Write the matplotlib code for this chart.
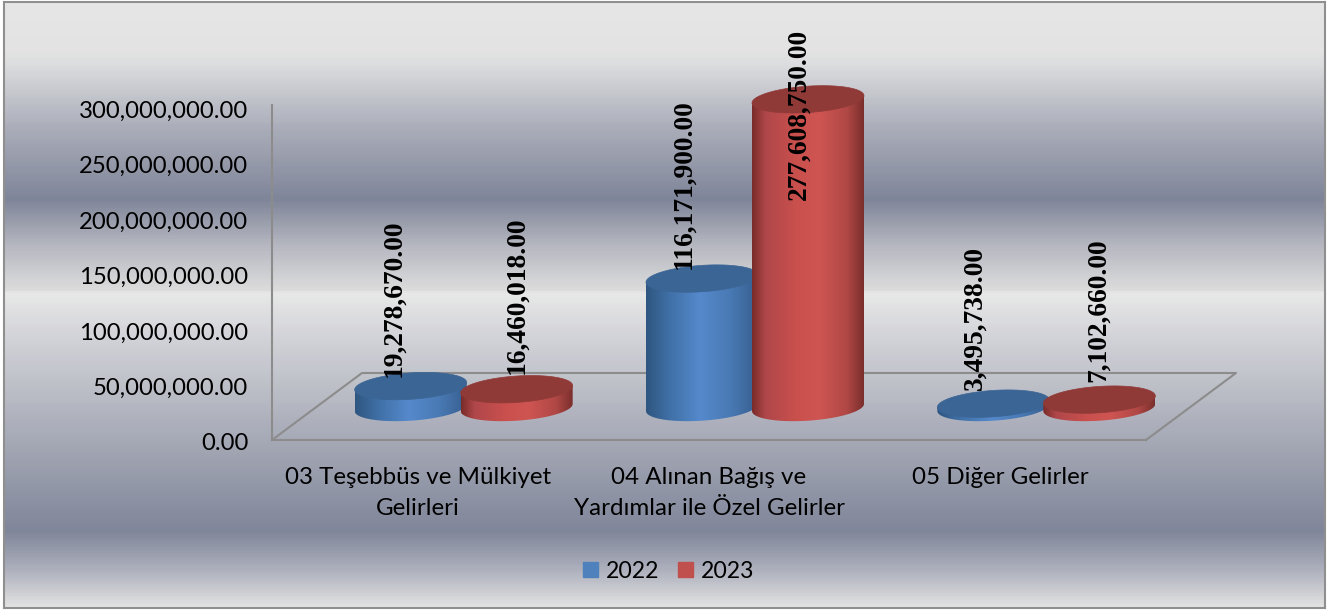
import numpy as np
import matplotlib
matplotlib.use('Agg')
import matplotlib.pyplot as plt
from matplotlib.colors import LinearSegmentedColormap
from matplotlib.patches import Patch, Polygon
from matplotlib.transforms import ScaledTranslation

categories = ['03 Teşebbüs ve Mülkiyet\nGelirleri',
              '04 Alınan Bağış ve\nYardımlar ile Özel Gelirler',
              '05 Diğer Gelirler']
years = ['2022', '2023']
values_2022 = [19278670, 116171900, 3495738]
values_2023 = [16460018, 277608750, 7102660]
y_ticks = [0, 50000000, 100000000, 150000000, 200000000, 250000000, 300000000]

W, H = 1342, 611
# chart box in pixels
left, right, top, bottom = 272, 1146, 107, 440
px_x = 3.0 / (right - left)
px_y = 300000000.0 / (bottom - top)

depth_x = 90 * px_x
depth_y = 67 * px_y
half_w = 56 * px_x
gap = 53 * px_x
ell_b = 13.2 * px_y
ell_s = 3.6 * px_y
base = depth_y / 2 - 1 * px_y
bar_shift = 1 * px_x

# label offsets from the bar top, pixels (right, up)
label_dx = [[-17, -18, -18], [0, -9, -1]]
label_dy = [[9, 9.5, 13.6], [15, -101, 17.6]]

bg_cmap = LinearSegmentedColormap.from_list('bg', [
    (0.0, '#e6e6e6'), (0.08, '#e3e3e3'), (0.10, '#dcdddf'), (0.21, '#a9acb8'),
    (0.325, '#7f8599'), (0.40, '#b5b7c0'), (0.475, '#dcdcdc'), (0.48, '#e8e8e8'),
    (0.555, '#d2d3d8'), (0.755, '#9ea2b0'), (0.875, '#80869a'), (0.94, '#aeb1bd'),
    (1.0, '#e2e2e2')])
blue_cmap = LinearSegmentedColormap.from_list('b', [
    (0.0, '#2f5680'), (0.2, '#3f6fa5'), (0.48, '#5589cc'), (0.75, '#4a7ab5'), (1.0, '#365f8f')])
red_cmap = LinearSegmentedColormap.from_list('r', [
    (0.0, '#7a2c2a'), (0.12, '#b0474a'), (0.4, '#c9504d'), (0.6, '#cf5552'), (0.85, '#b04845'), (1.0, '#7b2f2d')])
top_colors = ['#3b6595', '#903a38']
legend_colors = ['#4f81bd', '#c0504d']
line_color = '#8c8c8c'
t_lower = np.linspace(np.pi, 2 * np.pi, 80)
t_full = np.linspace(0, 2 * np.pi, 160)

plt.rcParams['font.family'] = ['Lato', 'DejaVu Sans']
fig = plt.figure(figsize=(W / 100, H / 100), dpi=100, facecolor='white')

# background panel with the banded gradient
bg = fig.add_axes([4 / W, 1 - 608 / H, (1325 - 4) / W, (608 - 2) / H])
bg.imshow(np.linspace(0, 1, 606).reshape(-1, 1), cmap=bg_cmap, aspect='auto', vmin=0, vmax=1)
bg.set_xticks([])
bg.set_yticks([])
for s in bg.spines.values():
    s.set_color('#8f8f8f')
    s.set_linewidth(1.5)

ax = fig.add_axes([left / W, 1 - bottom / H, (right - left) / W, (bottom - top) / H])
ax.patch.set_visible(False)


def cylinder(cx, value, cmap, top_color, z):
    upper = base + value
    low_x = cx + half_w * np.cos(t_lower)
    low_y = base + ell_b * np.sin(t_lower) + ell_s * np.cos(t_lower)
    side_pts = np.column_stack([
        np.r_[cx - half_w, low_x, cx + half_w],
        np.r_[upper - ell_s, low_y, upper + ell_s]])
    side = Polygon(side_pts, closed=True, fc='none', ec='none', zorder=z, clip_on=False)
    ax.add_patch(side)
    im = ax.imshow(np.linspace(0, 1, 200).reshape(1, -1), cmap=cmap, aspect='auto',
                   extent=(cx - half_w, cx + half_w, base - 20 * px_y, upper + 20 * px_y),
                   zorder=z, vmin=0, vmax=1)
    # images stay inside the axes box unless the clip box is the whole figure
    im.set_clip_box(fig.bbox)
    im.set_clip_path(side)
    cap = Polygon(np.column_stack([
        cx + half_w * np.cos(t_full),
        upper + ell_b * np.sin(t_full) + ell_s * np.cos(t_full)]),
        closed=True, fc=top_color, ec=top_color, lw=0.5, zorder=z + 0.5, clip_on=False)
    ax.add_patch(cap)


series = [values_2022, values_2023]
cmaps = [blue_cmap, red_cmap]
z = 3
for i in range(len(categories)):
    for j in range(2):
        cx = i + depth_x / 2 + (2 * j - 1) * gap + bar_shift
        cylinder(cx, series[j][i], cmaps[j], top_colors[j], z)
        z += 1
for i in range(len(categories)):
    for j in range(2):
        cx = i + depth_x / 2 + (2 * j - 1) * gap + bar_shift
        ax.annotate(f'{series[j][i]:,.2f}', xy=(cx, base + series[j][i]),
                    xytext=(label_dx[j][i], label_dy[j][i]), textcoords='offset pixels',
                    rotation=90, ha='center', va='bottom', fontsize=19.8,
                    fontweight='bold', family='Liberation Serif', color='black',
                    zorder=30, annotation_clip=False)

# floor outline
ax.plot([-0.5, -0.5 + depth_x, 2.5 + depth_x, 2.5],
        [0, depth_y, depth_y, 0], color=line_color, lw=1.5, clip_on=False, zorder=2)

ax.set_xlim(-0.5, 2.5)
ax.set_ylim(0, 300000000)
ax.set_xticks(range(len(categories)))
ax.set_xticklabels(categories, fontsize=17.4, linespacing=1.58)
ax.set_yticks(y_ticks)
ax.set_yticklabels([f'{v:,.2f}' for v in y_ticks], fontsize=17.2)
ax.tick_params(axis='x', length=0, pad=19.5)
ax.tick_params(axis='y', length=0, pad=17)
shift = ScaledTranslation(0, -2 / 100, fig.dpi_scale_trans)
for lab in ax.get_yticklabels():
    lab.set_transform(lab.get_transform() + shift)
for s in ['top', 'right']:
    ax.spines[s].set_visible(False)
for s in ['left', 'bottom']:
    ax.spines[s].set_color(line_color)
    ax.spines[s].set_linewidth(1.5)
ax.spines['left'].set_bounds(0, 302000000)

handles = [Patch(color=c, label=y) for c, y in zip(legend_colors, years)]
fig.legend(handles=handles, loc='center', bbox_to_anchor=(668.5 / W, 1 - 571 / H), ncol=2,
           frameon=False, fontsize=16.6, handlelength=0.65, handleheight=0.65,
           handletextpad=0.33, columnspacing=0.8)

fig.savefig('out.png', dpi=100)
